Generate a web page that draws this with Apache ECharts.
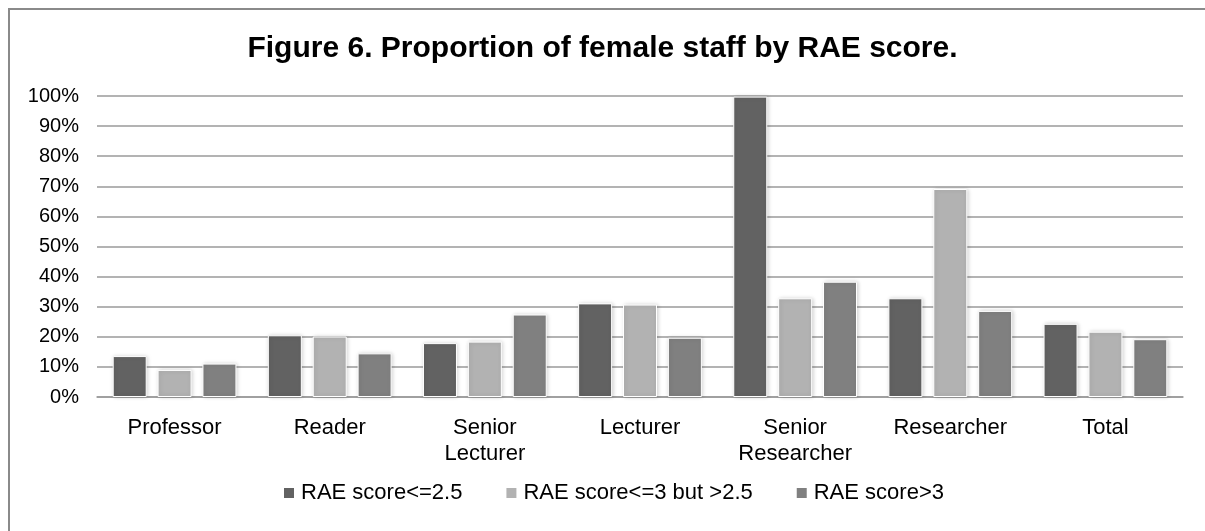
<!DOCTYPE html>
<html>
<head>
<meta charset="utf-8">
<script src="https://cdn.jsdelivr.net/npm/echarts@6/dist/echarts.min.js"></script>
<style>
html,body{margin:0;padding:0;background:#fff;}
#frame{position:absolute;left:8px;top:8px;width:1197px;height:523px;border-top:2px solid #8a8a8a;border-left:2px solid #8a8a8a;box-sizing:border-box;}
#c{position:absolute;left:0;top:0;width:1205px;height:531px;}
</style>
</head>
<body>
<div id="frame"></div>
<div id="c"></div>
<script>
const categories = ['Professor','Reader','Senior\nLecturer','Lecturer','Senior\nResearcher','Researcher','Total'];
const seriesNames = ['RAE score<=2.5','RAE score<=3 but >2.5','RAE score>3'];
const low = [13.6, 20.5, 17.9, 31.1, 99.8, 32.8, 24.3];
const mid = [9.0, 20.1, 18.4, 30.7, 32.8, 69.1, 21.7];
const high = [11.1, 14.5, 27.4, 19.7, 38.3, 28.6, 19.2];
const yTicks = [0,10,20,30,40,50,60,70,80,90,100];
const colors = ['#626262','#b2b2b2','#808080'];
const FONT = 'Liberation Sans, Arial, sans-serif';

const chart = echarts.init(document.getElementById('c'));
const mk = (name, data, color) => ({
  name, type:'bar', data, barWidth:34, barGap:'32%',
  itemStyle:{color, borderColor:'#ffffff', borderWidth:1, shadowColor:'rgba(0,0,0,0.18)', shadowBlur:4, shadowOffsetX:1, shadowOffsetY:0},
  emphasis:{disabled:true}
});
chart.setOption({
  animation:false,
  backgroundColor:'transparent',
  title:{text:'Figure 6. Proportion of female staff by RAE score.', left:'center', top:29,
    textStyle:{fontFamily:FONT, fontWeight:'bold', fontSize:30, color:'#000'}},
  grid:{left:97, right:22, top:96, bottom:134, containLabel:false},
  legend:{bottom:22, left:277, itemWidth:12, itemHeight:12, itemGap:42, icon:'rect',
    textStyle:{fontFamily:FONT, fontSize:22, color:'#000', padding:[0,0,0,1]},
    data:seriesNames},
  xAxis:{type:'category', data:categories,
    axisLine:{lineStyle:{color:'#9a9a9a', width:1.5}}, axisTick:{show:false},
    axisLabel:{fontFamily:FONT, fontSize:22, color:'#000', margin:18, lineHeight:26, interval:0}},
  yAxis:{type:'value', min:0, max:100, interval:10,
    axisLine:{show:false}, axisTick:{show:false},
    splitLine:{lineStyle:{color:'#9a9a9a', width:1.5}},
    axisLabel:{fontFamily:FONT, fontSize:20, color:'#000', margin:18,
      formatter:v => yTicks.includes(v) ? v + '%' : ''}},
  series:[mk(seriesNames[0], low, colors[0]), mk(seriesNames[1], mid, colors[1]), mk(seriesNames[2], high, colors[2])]
});
</script>
</body>
</html>
